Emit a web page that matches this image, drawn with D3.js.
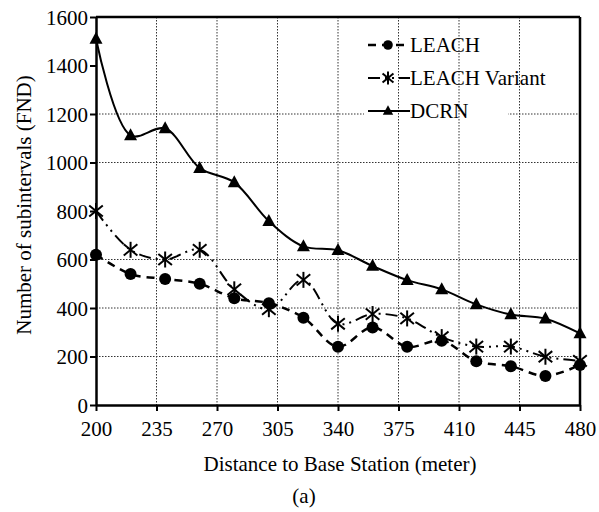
<!DOCTYPE html>
<html>
<head>
<meta charset="utf-8">
<script src="https://cdn.jsdelivr.net/npm/d3@7"></script>
<style>
  body { margin: 0; background: #fff; }
  svg text { font-family: "Times New Roman", "Liberation Serif", Times, "DejaVu Serif", serif; fill: #000; }
</style>
</head>
<body>
<div id="chart"></div>
<script>
// distances (m)
const distances = [200, 220, 240, 260, 280, 300, 320, 340, 360, 380, 400, 420, 440, 460, 480];
const leach = [620, 540, 520, 500, 440, 420, 360, 240, 320, 240, 265, 180, 160, 120, 165];
const leachVariant = [800, 640, 600, 640, 477, 395, 516, 335, 375, 357, 280, 241, 241, 199, 182];
const dcrn = [1510, 1112, 1140, 977, 918, 758, 654, 638, 573, 515, 477, 415, 373, 356, 295];

const xTicks = [200, 235, 270, 305, 340, 375, 410, 445, 480];
const yTicks = [0, 200, 400, 600, 800, 1000, 1200, 1400, 1600];
const hGrid = [200, 400, 600, 1000, 1200];
const vGrid = [235, 270, 305, 340, 375, 410, 445];

const series = [
  { name: "LEACH", values: leach, marker: "circle", dash: "8,6", width: 2.5 },
  { name: "LEACH Variant", values: leachVariant, marker: "star", dash: "12,5,2,5,2,5", width: 2 },
  { name: "DCRN", values: dcrn, marker: "triangle", dash: null, width: 2 }
];

const svgWidth = 599, svgHeight = 512;
const margin = { top: 17, right: 19, bottom: 107, left: 96 };
const width = svgWidth - margin.left - margin.right;
const height = svgHeight - margin.top - margin.bottom;
const fontSize = "21px";

const svg = d3.select("#chart").append("svg")
  .attr("width", svgWidth)
  .attr("height", svgHeight);

const g = svg.append("g")
  .attr("transform", "translate(" + margin.left + "," + margin.top + ")");

const x = d3.scaleLinear().domain([200, 480]).range([0, width]);
const y = d3.scaleLinear().domain([0, 1600]).range([height, 0]);

// horizontal gridlines
g.selectAll(".hgrid").data(hGrid).enter().append("line")
  .attr("x1", 0).attr("x2", width)
  .attr("y1", d => y(d)).attr("y2", d => y(d))
  .attr("stroke", "#333").attr("stroke-width", 1).attr("stroke-dasharray", "1.5,1.5");

// legend background hides horizontal grid
g.append("rect")
  .attr("x", 364 - margin.left).attr("y", 25 - margin.top)
  .attr("width", 144).attr("height", 100)
  .attr("fill", "#fff");

// vertical gridlines
g.selectAll(".vgrid").data(vGrid).enter().append("line")
  .attr("y1", 0).attr("y2", height)
  .attr("x1", d => x(d)).attr("x2", d => x(d))
  .attr("stroke", "#333").attr("stroke-width", 1).attr("stroke-dasharray", "1.5,1.5");

// axes
const xAxis = d3.axisBottom(x).tickValues(xTicks).tickSize(6).tickPadding(10).tickSizeOuter(0).tickFormat(d3.format("d"));
const yAxis = d3.axisLeft(y).tickValues(yTicks).tickSize(6).tickPadding(2).tickSizeOuter(0).tickFormat(d3.format("d"));

const gx = g.append("g").attr("transform", "translate(0," + height + ")").call(xAxis);
const gy = g.append("g").call(yAxis);
[gx, gy].forEach(a => {
  a.attr("font-family", null).attr("font-size", null);
  a.select(".domain").attr("stroke", "#000").attr("stroke-width", 2.5);
  a.selectAll(".tick line").attr("stroke", "#000").attr("stroke-width", 2);
  a.selectAll(".tick text").style("font-size", fontSize);
});
gy.selectAll(".tick text").attr("dy", "0.34em");

// frame top & right
g.append("line").attr("x1", 0).attr("x2", width).attr("y1", 0).attr("y2", 0)
  .attr("stroke", "#000").attr("stroke-width", 2.5);
g.append("line").attr("x1", width).attr("x2", width).attr("y1", 0).attr("y2", height)
  .attr("stroke", "#000").attr("stroke-width", 2.5);

function drawMarker(sel, type, cx, cy, s) {
  if (type === "circle") {
    sel.append("circle").attr("cx", cx).attr("cy", cy).attr("r", 6 * s).attr("fill", "#000");
  } else if (type === "triangle") {
    const h = 12 * s, w = 13 * s;
    sel.append("path")
      .attr("d", `M${cx},${cy - h * 0.6}L${cx + w / 2},${cy + h * 0.4}L${cx - w / 2},${cy + h * 0.4}Z`)
      .attr("fill", "#000");
  } else {
    const r = 8 * s;
    const p = sel.append("g").attr("stroke", "#000").attr("stroke-width", 2);
    p.append("line").attr("x1", cx).attr("x2", cx).attr("y1", cy - r).attr("y2", cy + r);
    p.append("line").attr("x1", cx - r * 0.85).attr("x2", cx + r * 0.85).attr("y1", cy - r * 0.7).attr("y2", cy + r * 0.7);
    p.append("line").attr("x1", cx - r * 0.85).attr("x2", cx + r * 0.85).attr("y1", cy + r * 0.7).attr("y2", cy - r * 0.7);
  }
}

const line = d3.line()
  .x((d, i) => x(distances[i]))
  .y(d => y(d))
  .curve(d3.curveCatmullRom.alpha(0.5));

series.forEach(s => {
  g.append("path")
    .datum(s.values)
    .attr("d", line)
    .attr("fill", "none")
    .attr("stroke", "#000")
    .attr("stroke-width", s.width)
    .attr("stroke-dasharray", s.dash);
  const mg = g.append("g");
  s.values.forEach((v, i) => drawMarker(mg, s.marker, x(distances[i]), y(v), 1));
});

// legend
series.forEach((s, i) => {
  const yy = 45 + i * 33;
  const lg = svg.append("g");
  lg.append("line")
    .attr("x1", 368).attr("x2", 410).attr("y1", yy).attr("y2", yy)
    .attr("stroke", "#000").attr("stroke-width", s.width)
    .attr("stroke-dasharray", s.dash);
  drawMarker(lg, s.marker, 388, yy, 0.8);
  lg.append("text")
    .attr("x", 410).attr("y", yy + 7)
    .style("font-size", fontSize)
    .text(s.name);
});

// axis titles
svg.append("text")
  .attr("x", 340).attr("y", 471)
  .attr("text-anchor", "middle")
  .style("font-size", fontSize)
  .text("Distance to Base Station (meter)");

svg.append("text")
  .attr("transform", "translate(31,205) rotate(-90)")
  .attr("text-anchor", "middle")
  .style("font-size", fontSize)
  .text("Number of subintervals (FND)");

svg.append("text")
  .attr("x", 304).attr("y", 503)
  .attr("text-anchor", "middle")
  .style("font-size", fontSize)
  .text("(a)");
</script>
</body>
</html>
